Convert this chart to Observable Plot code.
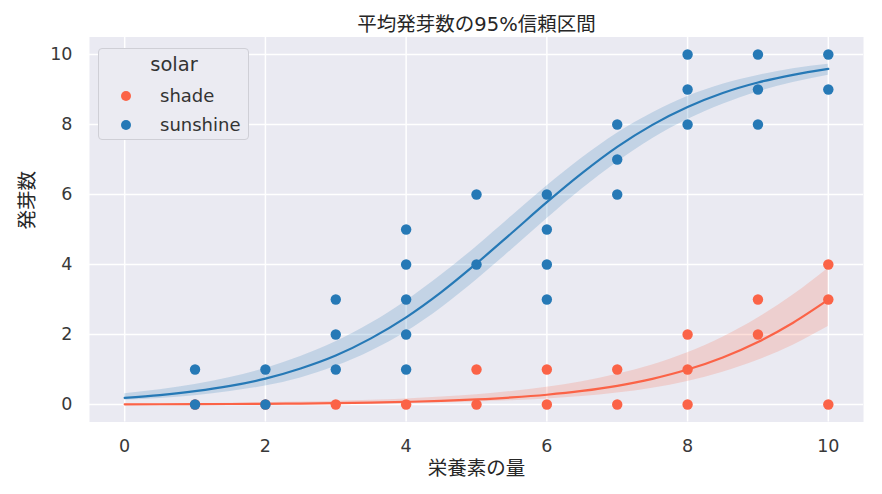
<!DOCTYPE html>
<html>
<head>
<meta charset="utf-8">
<script src="https://cdn.jsdelivr.net/npm/d3@7"></script>
<script src="https://cdn.jsdelivr.net/npm/@observablehq/plot@0.6"></script>
<style>
  html, body { margin: 0; padding: 0; background: #ffffff; }
  #wrap { position: relative; width: 882px; height: 494px; }
  #legend {
    position: absolute; left: 98px; top: 48px; width: 151px; height: 92px;
    box-sizing: border-box; border: 1px solid #cfcfd6; border-radius: 4px;
    background: #ebebf2; font-family: "DejaVu Sans", sans-serif; color: #333;
  }
  #legend .title { position: absolute; left: 0; width: 150px; top: 3px; text-align: center; font-size: 19.5px; line-height: 26px; }
  #legend .item { position: absolute; left: 0; font-size: 18px; line-height: 22px; }
  #legend .dot { position: absolute; left: 22px; top: 6px; width: 10px; height: 10px; border-radius: 50%; }
  #legend .lab { position: absolute; left: 61px; white-space: nowrap; }
</style>
</head>
<body>
<div id="wrap"></div>
<script>
// ---- data ----
const seriesNames = ["shade", "sunshine"];
const seriesColors = ["#fb6347", "#2679b6"];

const shadeX = [1, 2, 3, 4, 5, 5, 6, 6, 7, 7, 8, 8, 8, 9, 9, 10, 10, 10];
const shadeY = [0, 0, 0, 0, 0, 1, 0, 1, 0, 1, 0, 1, 2, 2, 3, 0, 3, 4];

const sunX = [1, 1, 2, 2, 3, 3, 3, 4, 4, 4, 4, 4, 5, 5, 6, 6, 6, 6, 7, 7, 7, 8, 8, 8, 9, 9, 9, 10, 10];
const sunY = [0, 1, 0, 1, 1, 2, 3, 1, 2, 3, 4, 5, 4, 6, 3, 4, 5, 6, 6, 7, 8, 8, 9, 10, 8, 9, 10, 9, 10];

// fitted curves and 95% bands, sampled along the x axis
const curveX = [0, 0.5, 1, 1.5, 2, 2.5, 3, 3.5, 4, 4.5, 5, 5.5, 6, 6.5, 7, 7.5, 8, 8.5, 9, 9.5, 10];
const sunFit = [0.19, 0.27, 0.38, 0.53, 0.74, 1.03, 1.40, 1.89, 2.49, 3.21, 4.03, 4.90, 5.78, 6.61, 7.36, 7.99, 8.50, 8.90, 9.20, 9.42, 9.59];
const sunLo  = [0.12, 0.17, 0.25, 0.37, 0.53, 0.76, 1.09, 1.52, 2.07, 2.76, 3.56, 4.42, 5.31, 6.16, 6.92, 7.59, 8.14, 8.58, 8.93, 9.20, 9.41];
const sunHi  = [0.31, 0.42, 0.57, 0.77, 1.03, 1.37, 1.79, 2.32, 2.96, 3.70, 4.51, 5.38, 6.24, 7.04, 7.75, 8.33, 8.80, 9.15, 9.40, 9.59, 9.72];
const shadeFit = [0.005, 0.007, 0.010, 0.014, 0.019, 0.027, 0.038, 0.053, 0.074, 0.103, 0.144, 0.201, 0.279, 0.387, 0.534, 0.733, 0.998, 1.344, 1.787, 2.337, 2.994];
const shadeLo  = [0.002, 0.002, 0.003, 0.005, 0.007, 0.011, 0.016, 0.023, 0.034, 0.050, 0.074, 0.108, 0.157, 0.227, 0.327, 0.467, 0.660, 0.920, 1.261, 1.695, 2.226];
const shadeHi  = [0.016, 0.022, 0.029, 0.038, 0.051, 0.068, 0.090, 0.120, 0.159, 0.211, 0.281, 0.372, 0.493, 0.652, 0.861, 1.132, 1.480, 1.923, 2.470, 3.130, 3.895];

const xTicks = [0, 2, 4, 6, 8, 10];
const yTicks = [0, 2, 4, 6, 8, 10];
const titleText = "平均発芽数の95%信頼区間";
const xLabel = "栄養素の量";
const yLabel = "発芽数";

// ---- tables ----
const shadePts = shadeX.map((x, i) => ({x, y: shadeY[i], solar: "shade"}));
const sunPts = sunX.map((x, i) => ({x, y: sunY[i], solar: "sunshine"}));
const shadeCurve = curveX.map((x, i) => ({x, fit: shadeFit[i], lo: shadeLo[i], hi: shadeHi[i]}));
const sunCurve = curveX.map((x, i) => ({x, fit: sunFit[i], lo: sunLo[i], hi: sunHi[i]}));

const [cShade, cSun] = seriesColors;
const cjk = "'DejaVu Sans', 'Noto Sans CJK JP', sans-serif";

const chart = Plot.plot({
  width: 882,
  height: 494,
  marginLeft: 89,
  marginRight: 19,
  marginTop: 36.5,
  marginBottom: 72.5,
  style: {background: "transparent", fontFamily: cjk, color: "#333", overflow: "visible"},
  x: {domain: [-0.5, 10.5]},
  y: {domain: [-0.5, 10.5]},
  marks: [
    Plot.frame({fill: "#eaeaf2", stroke: null}),
    Plot.gridX(xTicks, {stroke: "#ffffff", strokeOpacity: 1, strokeWidth: 1.5}),
    Plot.gridY(yTicks, {stroke: "#ffffff", strokeOpacity: 1, strokeWidth: 1.5}),
    Plot.axisX(xTicks, {tickSize: 0, tickPadding: 18, fontSize: 17.5, fill: "#383838", fontFamily: "DejaVu Sans", label: null}),
    Plot.axisY(yTicks, {tickSize: 0, tickPadding: 17, fontSize: 17.5, fill: "#383838", fontFamily: "DejaVu Sans", label: null}),
    // shade
    Plot.dot(shadePts, {x: "x", y: "y", r: 5.2, fill: cShade, stroke: null}),
    Plot.areaY(shadeCurve, {x: "x", y1: "lo", y2: "hi", fill: cShade, fillOpacity: 0.2, curve: "monotone-x"}),
    Plot.line(shadeCurve, {x: "x", y: "fit", stroke: cShade, strokeWidth: 2.2, curve: "monotone-x"}),
    // sunshine
    Plot.dot(sunPts, {x: "x", y: "y", r: 5.2, fill: cSun, stroke: null}),
    Plot.areaY(sunCurve, {x: "x", y1: "lo", y2: "hi", fill: cSun, fillOpacity: 0.2, curve: "monotone-x"}),
    Plot.line(sunCurve, {x: "x", y: "fit", stroke: cSun, strokeWidth: 2.2, curve: "monotone-x"}),
    // title and axis labels
    Plot.text([titleText], {text: d => d, frameAnchor: "top", dy: -20, fontSize: 19.5, fill: "#262626", fontFamily: cjk}),
    Plot.text([xLabel], {text: d => d, frameAnchor: "bottom", dy: 53, fontSize: 19.5, fill: "#262626", fontFamily: cjk}),
    Plot.text([yLabel], {text: d => d, frameAnchor: "left", dx: -61.5, rotate: -90, fontSize: 19.5, fill: "#262626", fontFamily: cjk})
  ]
});

const wrap = document.getElementById("wrap");
wrap.appendChild(chart);

// legend
const legend = document.createElement("div");
legend.id = "legend";
const t = document.createElement("div");
t.className = "title";
t.textContent = "solar";
legend.appendChild(t);
seriesNames.forEach((name, i) => {
  const item = document.createElement("div");
  item.className = "item";
  item.style.top = (36 + i * 29) + "px";
  const dot = document.createElement("div");
  dot.className = "dot";
  dot.style.background = seriesColors[i];
  const lab = document.createElement("div");
  lab.className = "lab";
  lab.textContent = name;
  item.appendChild(dot);
  item.appendChild(lab);
  legend.appendChild(item);
});
wrap.appendChild(legend);
</script>
</body>
</html>
